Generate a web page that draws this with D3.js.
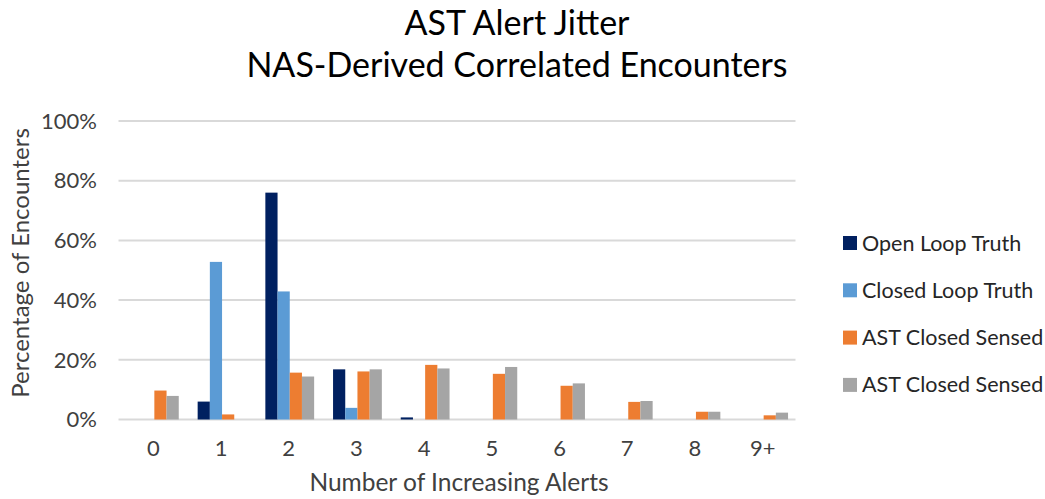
<!DOCTYPE html>
<html><head><meta charset="utf-8">
<script src="https://cdn.jsdelivr.net/npm/d3@7"></script>
<style>body{margin:0;background:#fff;} text{font-family:Lato,"Open Sans",sans-serif;fill:#404040;}</style>
</head><body><svg id="c" width="1045" height="499"></svg>
<script>
const categories = ["0","1","2","3","4","5","6","7","8","9+"];
const seriesNames = ["Open Loop Truth","Closed Loop Truth","AST Closed Sensed","AST Closed Sensed"];
const openLoopTruth   = [0, 6.0, 76.0, 16.8, 0.7, 0, 0, 0, 0, 0];
const closedLoopTruth = [0, 52.8, 42.9, 3.9, 0, 0, 0, 0, 0, 0];
const astClosedSensedA = [9.7, 1.7, 15.7, 16.1, 18.3, 15.3, 11.3, 5.9, 2.6, 1.4];
const astClosedSensedB = [7.9, 0, 14.4, 16.8, 17.1, 17.6, 12.1, 6.2, 2.6, 2.3];
const yTicks = [0, 20, 40, 60, 80, 100];
const colors = ["#002060","#5B9BD5","#ED7D31","#A5A5A5"];
const seriesValues = [openLoopTruth, closedLoopTruth, astClosedSensedA, astClosedSensedB];

const svg = d3.select("#c");
const pLeft = 120.5, pRight = 797.5, pTop = 121, pBottom = 419.5;
const x0 = d3.scaleBand().domain(categories).range([pLeft, pRight]).padding(0);
const x1 = d3.scaleBand().domain(d3.range(4)).range([0, x0.bandwidth()]).paddingInner(0).paddingOuter(0.775);
const y = d3.scaleLinear().domain([0, 100]).range([pBottom, pTop]);

// gridlines
svg.append("g").selectAll("line").data(yTicks).join("line")
  .attr("x1", pLeft - 2).attr("x2", pRight - 2)
  .attr("y1", d => y(d)).attr("y2", d => y(d))
  .attr("stroke", "#D9D9D9").attr("stroke-width", 2);

// y tick labels
svg.append("g").selectAll("text").data(yTicks).join("text")
  .attr("x", 97).attr("y", d => y(d)).attr("dy", "0.35em")
  .attr("text-anchor", "end").style("font-size", "22px")
  .text(d => d + "%");

// bars
const g = svg.append("g");
categories.forEach((c, i) => {
  seriesValues.forEach((vals, s) => {
    const v = vals[i];
    if (!v) return;
    g.append("rect")
      .attr("x", x0(c) + x1(s)).attr("width", x1.bandwidth())
      .attr("y", y(v)).attr("height", y(0) - y(v))
      .attr("fill", colors[s]);
  });
});

// x tick labels
svg.append("g").selectAll("text").data(categories).join("text")
  .attr("x", d => x0(d) + x0.bandwidth() / 2 - 1).attr("y", 456)
  .attr("text-anchor", "middle").style("font-size", "22px")
  .text(d => d);

// axis titles
svg.append("text").attr("x", (pLeft + pRight) / 2).attr("y", 491)
  .attr("text-anchor", "middle").style("font-size", "24.5px")
  .text("Number of Increasing Alerts");
svg.append("text").attr("transform", "translate(29,263) rotate(-90)")
  .attr("text-anchor", "middle").style("font-size", "24px")
  .text("Percentage of Encounters");

// title
svg.append("text").attr("x", 517).attr("y", 35).attr("text-anchor", "middle")
  .style("font-size", "34px").style("fill", "#000").text("AST Alert Jitter");
svg.append("text").attr("x", 517).attr("y", 77).attr("text-anchor", "middle")
  .style("font-size", "34px").style("fill", "#000").text("NAS-Derived Correlated Encounters");

// legend
const leg = svg.append("g").selectAll("g").data(seriesNames).join("g")
  .attr("transform", (d, i) => `translate(843,${243 + i * 47.3})`);
leg.append("rect").attr("x", 0).attr("y", -7).attr("width", 14).attr("height", 14)
  .attr("fill", (d, i) => colors[i]);
leg.append("text").attr("x", 19).attr("y", 0).attr("dy", "0.35em")
  .style("font-size", "21.5px").style("fill", "#262626").text(d => d);
</script></body></html>
